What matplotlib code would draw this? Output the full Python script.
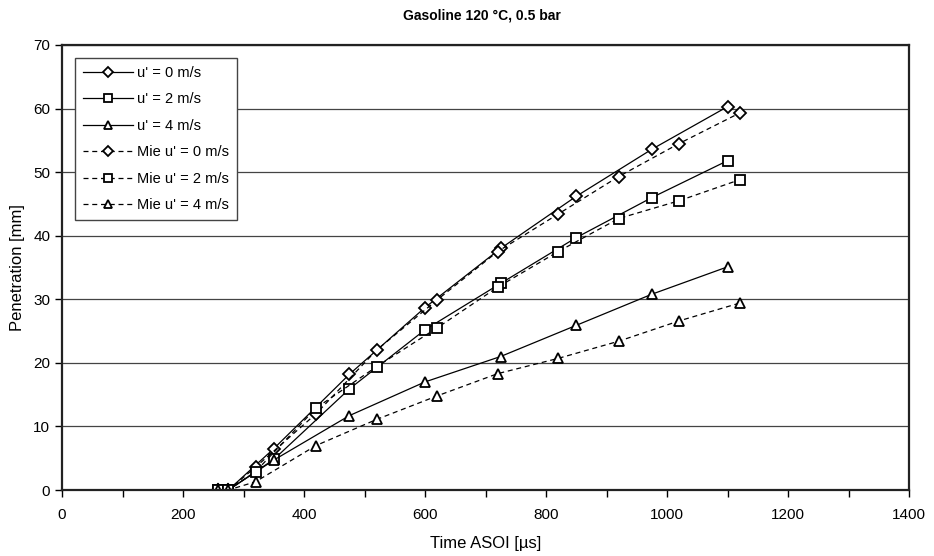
import numpy as np
import matplotlib
matplotlib.use("Agg")
import matplotlib.pyplot as plt
from matplotlib.ticker import MultipleLocator

plt.rcParams['font.family'] = ['Liberation Sans', 'DejaVu Sans']

# time after start of injection [us]
t_solid = [258, 275, 350, 475, 600, 725, 850, 975, 1100]
t_mie = [258, 275, 320, 420, 520, 620, 720, 820, 920, 1020, 1120]

# penetration [mm]
pen_u0 = [0, 0, 6.5, 18.2, 28.7, 38.0, 46.2, 53.6, 60.3]
pen_u2 = [0, 0, 4.8, 15.9, 25.2, 32.5, 39.7, 46.0, 51.8]
pen_u4 = [0, 0, 4.7, 11.7, 17.0, 21.0, 25.9, 30.8, 35.1]
mie_u0 = [0, 0, 3.6, 12.0, 22.0, 29.9, 37.5, 43.4, 49.3, 54.5, 59.3]
mie_u2 = [0, 0, 2.9, 12.9, 19.4, 25.5, 31.9, 37.5, 42.7, 45.5, 48.8]
mie_u4 = [0, 0, 1.3, 7.0, 11.1, 14.8, 18.3, 20.7, 23.4, 26.6, 29.4]

labels = ["u' = 0 m/s", "u' = 2 m/s", "u' = 4 m/s",
          "Mie u' = 0 m/s", "Mie u' = 2 m/s", "Mie u' = 4 m/s"]

fig = plt.figure(figsize=(9.34, 5.56), dpi=100)
ax = fig.add_axes([62/934, 1-490/556, 847/934, 445/556])

ax.yaxis.grid(True, color='#444444', lw=0.9)
ax.set_axisbelow(True)

mk = dict(mfc='white', mec='black', mew=1.3, color='black', lw=0.9)
ax.plot(t_solid, pen_u0, marker='D', ms=6, label=labels[0], **mk)
ax.plot(t_solid, pen_u2, marker='s', ms=6.5, label=labels[1], **mk)
ax.plot(t_solid, pen_u4, marker='^', ms=7.5, label=labels[2], **mk)
ax.plot(t_mie, mie_u0, marker='D', ms=6, ls=(0, (4, 3)), label=labels[3], **mk)
ax.plot(t_mie, mie_u2, marker='s', ms=6.5, ls=(0, (4, 3)), label=labels[4], **mk)
ax.plot(t_mie, mie_u4, marker='^', ms=7.5, ls=(0, (4, 3)), label=labels[5], **mk)

ax.set_xlim(0, 1400)
ax.set_ylim(0, 70)
ax.xaxis.set_major_locator(MultipleLocator(200))
ax.xaxis.set_minor_locator(MultipleLocator(100))
ax.yaxis.set_major_locator(MultipleLocator(10))
ax.tick_params(axis='x', which='both', direction='out', length=5, width=1, labelsize=11, pad=8)
ax.tick_params(axis='y', direction='out', length=5, width=1, labelsize=11)

for s in ax.spines.values():
    s.set_color('#222222')
    s.set_linewidth(1.6)

ax.set_xlabel('Time ASOI [\u00b5s]', fontsize=12, labelpad=10)
ax.set_ylabel('Penetration [mm]', fontsize=12, labelpad=6)
fig.text(482/934, 1-15/556, 'Gasoline 120 \u00b0C, 0.5 bar', ha='center', va='center',
         fontsize=10, fontweight='bold')

leg = ax.legend(loc='upper left', bbox_to_anchor=(13/847, 1-13/445), fontsize=10.5,
                frameon=True, fancybox=False, edgecolor='#444444', framealpha=1,
                handlelength=3.4, handletextpad=0.3, borderaxespad=0, labelspacing=0.85,
                borderpad=0.55, markerscale=0.85)
leg.get_frame().set_linewidth(1.0)

fig.savefig('out.png', dpi=100)
